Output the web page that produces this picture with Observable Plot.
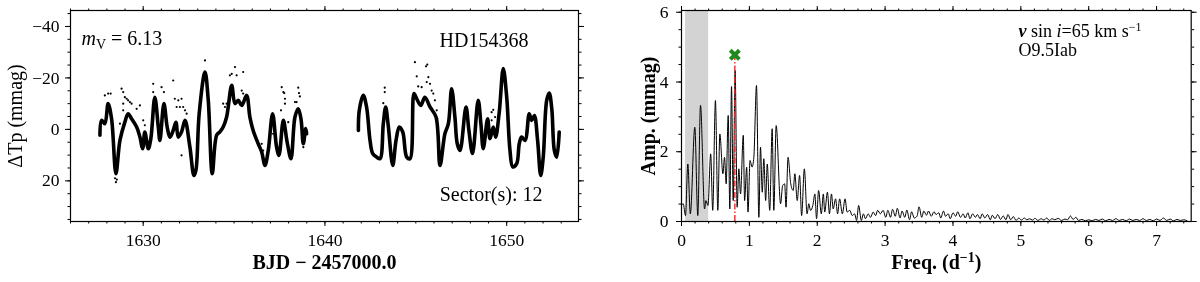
<!DOCTYPE html>
<html>
<head>
<meta charset="utf-8">
<script src="https://cdn.jsdelivr.net/npm/d3@7"></script>
<script src="https://cdn.jsdelivr.net/npm/@observablehq/plot@0.6"></script>
<style>
  body { margin: 0; background: #fff; }
  #wrap { display: flex; width: 1200px; height: 282px; }
  #wrap svg { display: block; will-change: transform; }
  text { fill: black; }
</style>
</head>
<body>
<div id="wrap"><div id="left"></div><div id="right"></div></div>
<script>
// ---------- Light curve (BJD - 2457000, ΔTp mmag) ----------
const lcSeg1 = [[1627.62,2.3],[1627.71,-3.5],[1627.89,-2.2],[1628.07,-10],[1628.26,-4.1],[1628.50,17.2],[1628.72,4.3],[1628.99,-2.8],[1629.17,-6.1],[1629.36,-4.1],[1629.64,-0.9],[1629.82,3],[1629.97,7.5],[1630.09,1],[1630.28,7.5],[1630.42,3.6],[1630.64,-12.5],[1630.83,-0.9],[1630.92,4.3],[1631.14,-10],[1631.32,-0.9],[1631.47,3],[1631.65,0.4],[1631.80,-2.8],[1631.93,3],[1632.11,1],[1632.30,-3.5],[1632.57,6.9],[1632.79,17.9],[1632.90,15.9],[1633.08,-6.1],[1633.40,-22.3],[1633.58,-11.3],[1633.80,17.2],[1634.04,2.3],[1634.22,1],[1634.40,-0.9],[1634.59,-4.8],[1634.87,-17.1],[1635.05,-10],[1635.23,-11.3],[1635.42,-9.3],[1635.69,-13.2],[1635.87,-4.8],[1636.05,0.4],[1636.33,5.6],[1636.52,8.8],[1636.70,14],[1636.88,8.2],[1637.12,-6.1],[1637.34,6.9],[1637.47,10.1],[1637.71,-3.5],[1637.92,5],[1638.13,11.4],[1638.35,-4.8],[1638.53,-8],[1638.68,-4.1],[1638.81,5.6],[1638.94,-0.3],[1638.99,1.7]];
const lcSeg2 = [[1641.84,0.4],[1641.89,-7.4],[1642.11,-13.2],[1642.29,-8.7],[1642.48,4.3],[1642.63,9.4],[1642.85,10.8],[1643.03,11.4],[1643.21,-2.2],[1643.34,-8.7],[1643.48,-1.6],[1643.73,14],[1643.91,4.3],[1644.09,-0.9],[1644.28,1],[1644.50,10.8],[1644.68,11.4],[1644.90,-13.9],[1645.05,-11.9],[1645.27,-9.3],[1645.50,-12.5],[1645.78,-8.7],[1646.11,-4.8],[1646.33,14],[1646.60,1.7],[1646.79,-2.2],[1646.97,-15.8],[1647.15,-4.8],[1647.28,5.6],[1647.43,8.2],[1647.76,-8.7],[1647.92,0.4],[1648.12,9.4],[1648.43,-11.3],[1648.58,-2.2],[1648.71,7.5],[1648.95,-4.1],[1649.08,3.6],[1649.26,-0.9],[1649.39,3],[1649.59,-6.7],[1649.81,-23.6],[1650.00,-12.5],[1650.18,8.2],[1650.33,14.6],[1650.55,13.3],[1650.69,5.6],[1650.82,3],[1651.01,4.3],[1651.24,-6.1],[1651.37,-3.5],[1651.52,-5.4],[1651.70,4.3],[1651.87,17.9],[1652.01,10.8],[1652.20,-11.3],[1652.34,-14.1],[1652.48,-8],[1652.62,8.2],[1652.75,10.8],[1652.89,1]];
const lcScatter = [[1627.89,-13.2],[1628.07,-13.9],[1628.21,-13.9],[1628.81,-15.8],[1628.90,-14.5],[1628.99,-12.5],[1629.09,-11.9],[1629.17,-11.3],[1629.27,-10.6],[1629.36,-10],[1628.90,-10],[1628.90,-7.4],[1628.72,-2.2],[1629.64,-8],[1629.82,-9.3],[1630.0,-3.5],[1630.09,-1.6],[1630.55,-17.7],[1630.55,-14.5],[1631.01,-16.4],[1631.14,-14.5],[1631.65,-19],[1631.74,-11.9],[1631.93,-11.3],[1632.11,-11.9],[1631.84,-8.7],[1632.02,-8.7],[1632.20,-8.7],[1632.30,-7.4],[1632.39,-6.1],[1632.11,10.1],[1632.57,5.6],[1633.40,-26.8],[1634.59,-10],[1634.77,-21],[1634.87,-21.6],[1635.05,-24.2],[1635.14,-21],[1635.50,-22.3],[1635.42,-15.1],[1635.50,-13.9],[1636.60,8.2],[1637.15,1.7],[1637.62,-16.4],[1637.71,-14.5],[1637.80,-11.9],[1637.76,-14.1],[1637.80,-10],[1637.58,-7.4],[1638.53,-16.2],[1638.57,-14.1],[1638.62,-12.8],[1638.44,-10.6],[1638.35,-10.6],[1637.98,-2.8],[1638.81,6.9],[1634.40,-10],[1634.50,-8.7],[1636.52,5.6],[1636.15,1.7],[1628.50,20.5],[1628.45,19],[1628.55,19.5],[1643.29,-16.2],[1643.29,-14.5],[1643.21,-10.2],[1644.95,-26.1],[1645.05,-20.6],[1645.13,-16.7],[1645.32,-16.4],[1645.56,-24.5],[1645.63,-25.2],[1645.69,-20.3],[1645.60,-18.4],[1645.78,-17.7],[1645.87,-15.1],[1645.96,-13.9],[1646.05,-11.3],[1646.15,-7.4],[1646.18,-4.1],[1649.26,-7.6],[1649.17,-6.7],[1649.36,-4.8],[1649.17,-3.5],[1648.90,-0.9],[1649.08,0.4],[1648.86,3]];
const lcXTicks = [1630, 1640, 1650];
const lcYTicks = [-40, -20, 0, 20];

// ---------- Amplitude spectrum (d^-1, mmag) ----------
const specLow = [[0,0.46],[0.025,0.51],[0.059,0.17],[0.093,1.65],[0.13,0.22],[0.196,2.70],[0.24,0.17],[0.28,3.33],[0.34,0.36],[0.36,0.6],[0.39,0.46],[0.43,1.94],[0.46,0.32],[0.50,3.47],[0.535,0.32],[0.565,2.51],[0.61,1.37],[0.634,1.84],[0.658,1.08],[0.688,3.04],[0.712,0.36],[0.737,3.87],[0.762,0.6],[0.79,4.33],[0.82,0.41],[0.845,1.51],[0.87,0.79],[0.91,2.47],[0.93,0.6],[0.96,1.56],[0.98,0.27],[1.01,1.75],[1.04,1.56],[1.066,1.84],[1.105,3.90],[1.14,0.12],[1.164,2.13],[1.19,0.84],[1.213,1.80],[1.24,0.6],[1.263,1.65],[1.30,0.32],[1.336,2.66],[1.36,0.32],[1.395,2.75],[1.46,0.51],[1.49,1.03],[1.52,1.08],[1.54,0.41],[1.57,1.84],[1.61,1.08],[1.646,0.89],[1.67,1.37],[1.705,0.6],[1.74,1.32],[1.77,0.17],[1.81,1.51],[1.85,0.22],[1.876,0.51],[1.90,0.32],[1.935,0.46],[1.965,0.79],[1.99,0.08],[2.02,0.89],[2.06,0.22],[2.09,0.79],[2.11,0.27],[2.15,0.84],[2.18,0.22],[2.21,0.79],[2.235,0.36],[2.27,0.65],[2.30,0.22],[2.33,0.65],[2.37,0.22],[2.41,0.65],[2.44,0.27],[2.48,0.32],[2.515,0.17],[2.55,0.22],[2.58,0.03],[2.61,0.46],[2.65,0.03],[2.68,0.22],[2.71,0.08],[2.75,0.22],[2.785,0.12],[2.825,0.27],[2.86,0.17],[2.89,0.32],[2.93,0.22],[2.97,0.32],[3.01,0.12],[3.04,0.32]];
const specHigh = [[3.08,0.12],[3.11,0.35],[3.15,0.15],[3.18,0.38],[3.22,0.1],[3.25,0.3],[3.29,0.12],[3.32,0.33],[3.36,0.05],[3.39,0.28],[3.43,0.1],[3.47,0.15],[3.50,0.42],[3.54,0.12],[3.57,0.3],[3.61,0.18],[3.64,0.3],[3.68,0.15],[3.72,0.28],[3.75,0.2],[3.79,0.25],[3.82,0.1],[3.86,0.3],[3.89,0.15],[3.93,0.22],[3.96,0.08],[4.00,0.25],[4.04,0.15],[4.07,0.28],[4.11,0.12],[4.15,0.22],[4.18,0.1],[4.22,0.25],[4.25,0.08],[4.29,0.22],[4.33,0.12],[4.36,0.2],[4.40,0.08],[4.43,0.22],[4.47,0.1],[4.51,0.2],[4.55,0.05],[4.58,0.18],[4.62,0.08],[4.66,0.2],[4.70,0.06],[4.74,0.16],[4.78,0.05],[4.81,0.2],[4.85,0.05],[4.89,0.14],[4.93,0.03],[4.97,0.1],[5.01,0.04],[5.05,0.1],[5.09,0.05],[5.13,0.08],[5.17,0.04],[5.21,0.09],[5.25,0.03],[5.30,0.08],[5.34,0.04],[5.38,0.1],[5.42,0.03],[5.46,0.08],[5.50,0.05],[5.55,0.09],[5.60,0.03],[5.65,0.07],[5.69,0.05],[5.73,0.16],[5.77,0.06],[5.81,0.12],[5.85,0.03],[5.90,0.06],[5.95,0.02],[6.00,0.05],[6.05,0.02],[6.10,0.06],[6.15,0.03],[6.20,0.07],[6.25,0.02],[6.30,0.06],[6.35,0.03],[6.40,0.08],[6.45,0.03],[6.50,0.06],[6.55,0.02],[6.60,0.07],[6.65,0.03],[6.70,0.06],[6.75,0.03],[6.80,0.08],[6.85,0.03],[6.90,0.06],[6.95,0.02],[7.00,0.07],[7.05,0.03],[7.10,0.1],[7.15,0.03],[7.20,0.07],[7.25,0.02],[7.30,0.06],[7.35,0.03],[7.40,0.05],[7.45,0.02]];
const spectrum = specLow.concat(specHigh);
const peakFreq = 0.786;
const peakMarkerAmp = 4.78;
const shadedBand = [0.06, 0.40];
const spXTicks = [0, 1, 2, 3, 4, 5, 6, 7];
const spYTicks = [0, 2, 4, 6];

const FONT = '"Liberation Serif", "DejaVu Serif", serif';
const noText = () => "";
const fmt = d3.format("d");

function axes(xMaj, xMin, yMaj, yMin, xPad, yPad) {
  return [
    Plot.axisX({ticks: xMaj, tickSize: 5, tickPadding: xPad, tickFormat: fmt, label: null, fontSize: 17.5, fill: "black"}),
    Plot.axisX({ticks: xMin, tickSize: 2.5, tickFormat: noText, label: null}),
    Plot.axisX({anchor: "top", ticks: xMaj, tickSize: 5, tickFormat: noText, label: null}),
    Plot.axisX({anchor: "top", ticks: xMin, tickSize: 2.5, tickFormat: noText, label: null}),
    Plot.axisY({ticks: yMaj, tickSize: 5, tickPadding: yPad, tickFormat: fmt, label: null, fontSize: 17.5, fill: "black"}),
    Plot.axisY({ticks: yMin, tickSize: 2.5, tickFormat: noText, label: null}),
    Plot.axisY({anchor: "right", ticks: yMaj, tickSize: 5, tickFormat: noText, label: null}),
    Plot.axisY({anchor: "right", ticks: yMin, tickSize: 2.5, tickFormat: noText, label: null})
  ];
}

const left = Plot.plot({
  width: 600, height: 282,
  marginLeft: 70, marginRight: 22, marginTop: 10, marginBottom: 61,
  style: {fontFamily: FONT, fontSize: "17.5px", color: "black", background: "white"},
  x: {domain: [1626, 1653.95], label: null},
  y: {domain: [-46.2, 35.8], reverse: true, label: null},
  marks: [
    ...axes(lcXTicks, d3.range(1626, 1654), lcYTicks, d3.range(-45, 36, 5), 7, 6),
    Plot.dot(lcScatter, {x: d => d[0], y: d => d[1], r: 1.1, fill: "black", stroke: "none"}),
    Plot.line(lcSeg1, {x: d => d[0], y: d => d[1], stroke: "black", strokeWidth: 3.6, curve: "catmull-rom", strokeLinejoin: "round"}),
    Plot.line(lcSeg2, {x: d => d[0], y: d => d[1], stroke: "black", strokeWidth: 3.6, curve: "catmull-rom", strokeLinejoin: "round"}),
    Plot.frame({stroke: "black", strokeWidth: 1.2}),
    Plot.text(["mV = 6.13"], {frameAnchor: "top-left", dx: 11, dy: 28, textAnchor: "start", lineAnchor: "middle", fontSize: 20, fill: "black"}),
    Plot.text(["HD154368"], {frameAnchor: "top-right", dx: -50, dy: 30, textAnchor: "end", lineAnchor: "middle", fontSize: 20, fill: "black"}),
    Plot.text(["Sector(s): 12"], {frameAnchor: "bottom-right", dx: -36, dy: -27, textAnchor: "end", lineAnchor: "middle", fontSize: 20, fill: "black"}),
    Plot.text(["BJD − 2457000.0"], {frameAnchor: "bottom", dy: 41, lineAnchor: "middle", fontSize: 20, fontWeight: "bold", fill: "black"}),
    Plot.text(["ΔTp (mmag)"], {frameAnchor: "left", dx: -55, rotate: -90, lineAnchor: "middle", textAnchor: "middle", fontSize: 20, fill: "black"})
  ]
});

const right = Plot.plot({
  width: 600, height: 282,
  marginLeft: 81, marginRight: 9.3, marginTop: 10, marginBottom: 61,
  style: {fontFamily: FONT, fontSize: "17.5px", color: "black", background: "white"},
  x: {domain: [0, 7.51], label: null},
  y: {domain: [0, 6.05], label: null},
  marks: [
    Plot.rect([shadedBand], {x1: d => d[0], x2: d => d[1], y1: 0, y2: 6.05, fill: "#d3d3d3"}),
    ...axes(spXTicks, d3.range(0, 7.5, 0.2), spYTicks, d3.range(0, 6.01, 0.5), 7, 8),
    Plot.line(spectrum, {x: d => d[0], y: d => d[1], stroke: "black", strokeWidth: 1, curve: "monotone-x"}),
    Plot.ruleX([peakFreq], {x: d => d, y1: 0, y2: peakMarkerAmp, stroke: "#f22", strokeWidth: 1.4, strokeDasharray: "6,2,1.5,2"}),
    Plot.dot([[peakFreq, peakMarkerAmp]], {x: d => d[0], y: d => d[1], symbol: "times", r: 4.2, stroke: "#1e8a1e", strokeWidth: 4}),
    Plot.frame({stroke: "black", strokeWidth: 1.2}),
    Plot.text(["v sin i=65 km s−1\nO9.5Iab"], {frameAnchor: "top-left", dx: 337, dy: 12, textAnchor: "start", lineAnchor: "top", lineHeight: 1.1, fontSize: 18, fill: "black"}),
    Plot.text(["Freq. (d−1)"], {frameAnchor: "bottom", dy: 41, lineAnchor: "middle", fontSize: 20, fontWeight: "bold", fill: "black"}),
    Plot.text(["Amp. (mmag)"], {frameAnchor: "left", dx: -33, rotate: -90, lineAnchor: "middle", textAnchor: "middle", fontSize: 20, fontWeight: "bold", fill: "black"})
  ]
});

function rich(svg, sel, plain, html) {
  d3.select(svg).selectAll(sel).filter(function () { return this.textContent === plain; }).html(html);
}
rich(left, "text", "mV = 6.13", '<tspan font-style="italic">m</tspan><tspan font-size="14" baseline-shift="-4">V</tspan> = 6.13');
rich(right, "tspan", "v sin i=65 km s−1", '<tspan font-style="italic" font-weight="bold">v</tspan> sin <tspan font-style="italic">i</tspan>=65 km s<tspan font-size="12" baseline-shift="6">−1</tspan>');
rich(right, "text", "Freq. (d−1)", 'Freq. (d<tspan font-size="14" baseline-shift="7">−1</tspan>)');

document.getElementById("left").appendChild(left);
document.getElementById("right").appendChild(right);
</script>
</body>
</html>
